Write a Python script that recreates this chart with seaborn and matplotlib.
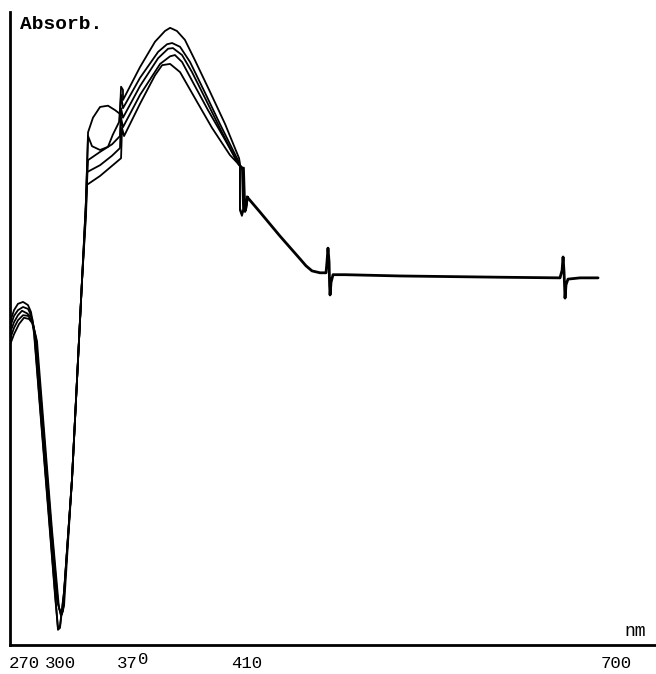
import numpy as np
import pandas as pd
import matplotlib
matplotlib.use("Agg")
import matplotlib.pyplot as plt
import seaborn as sns

# Recorder traces: wavelength (nm) and absorbance (arbitrary units)
trace1_nm = [252.6, 256.5, 260.3, 265.2, 270.0, 272.9, 275.8, 281.6, 289.4, 296.1, 299.0, 300.8,
             304.2, 310.8, 319.2, 322.5, 324.2, 328.3, 334.2, 340.8, 346.7, 350.8, 351.7, 353.3,
             353.3, 367.5, 374.2, 377.7, 379.5, 381.9, 384.7, 388.2, 393.5, 398.8, 403.7, 404.0,
             404.0, 404.7, 406.5]
trace1_A = [0.510, 0.529, 0.539, 0.542, 0.537, 0.526, 0.498, 0.379, 0.221, 0.084, 0.024, 0.027,
            0.084, 0.261, 0.577, 0.703, 0.810, 0.833, 0.850, 0.852, 0.845, 0.839, 0.882, 0.877,
            0.861, 0.913, 0.953, 0.970, 0.975, 0.970, 0.956, 0.924, 0.874, 0.823, 0.769, 0.761,
            0.687, 0.678, 0.708]

trace2_nm = [252.6, 256.5, 260.3, 265.2, 270.0, 272.9, 275.8, 281.6, 289.4, 296.1, 299.0, 300.8,
             304.2, 310.8, 319.2, 322.5, 324.2, 327.5, 334.2, 340.8, 344.8, 350.0, 351.7, 353.3,
             367.5, 375.3, 378.4, 380.2, 383.0, 386.5, 391.8, 397.0, 403.3, 404.0, 404.0, 404.7,
             406.5]
trace2_A = [0.502, 0.520, 0.529, 0.534, 0.531, 0.521, 0.493, 0.374, 0.216, 0.079, 0.027, 0.030,
            0.084, 0.261, 0.577, 0.703, 0.804, 0.788, 0.782, 0.787, 0.806, 0.826, 0.869, 0.848,
            0.896, 0.937, 0.949, 0.951, 0.945, 0.921, 0.872, 0.823, 0.766, 0.758, 0.690, 0.681,
            0.708]

trace3_nm = [252.6, 256.5, 260.3, 264.2, 269.0, 273.9, 276.8, 283.5, 291.3, 298.1, 301.7, 303.3,
             310.8, 319.2, 322.5, 324.2, 334.2, 344.2, 350.8, 351.7, 353.3, 367.5, 375.3, 378.8,
             380.5, 383.7, 387.2, 392.1, 397.7, 403.3, 404.7, 405.1, 405.8, 406.8]
trace3_A = [0.493, 0.510, 0.521, 0.528, 0.524, 0.517, 0.490, 0.355, 0.197, 0.071, 0.046, 0.055,
            0.261, 0.577, 0.695, 0.766, 0.779, 0.791, 0.804, 0.848, 0.833, 0.883, 0.927, 0.942,
            0.943, 0.932, 0.905, 0.861, 0.810, 0.761, 0.755, 0.690, 0.684, 0.708]

trace4_nm = [252.6, 256.5, 260.3, 265.2, 270.0, 273.9, 277.7, 284.5, 292.3, 299.0, 301.7, 303.3,
             310.8, 319.2, 322.5, 323.3, 334.2, 344.2, 350.8, 351.7, 353.3, 367.5, 376.0, 379.5,
             381.2, 383.7, 387.5, 392.8, 398.8, 403.7, 405.1, 405.4, 406.1, 406.8]
trace4_A = [0.483, 0.501, 0.513, 0.521, 0.520, 0.512, 0.485, 0.348, 0.190, 0.066, 0.047, 0.055,
            0.261, 0.577, 0.687, 0.747, 0.758, 0.773, 0.785, 0.833, 0.818, 0.869, 0.918, 0.930,
            0.932, 0.921, 0.889, 0.845, 0.798, 0.758, 0.752, 0.694, 0.686, 0.708]

trace5_nm = [252.6, 256.5, 261.3, 266.1, 271.0, 274.8, 278.7, 285.5, 293.2, 300.0, 302.5, 304.2,
             310.8, 319.2, 322.5, 323.3, 334.2, 344.2, 351.7, 352.5, 354.2, 367.5, 374.2, 376.7,
             379.5, 383.0, 388.2, 394.2, 400.5, 404.7, 405.4, 405.8, 406.1, 406.8]
trace5_A = [0.474, 0.491, 0.507, 0.517, 0.515, 0.507, 0.480, 0.340, 0.182, 0.058, 0.049, 0.062,
            0.261, 0.577, 0.679, 0.727, 0.741, 0.757, 0.769, 0.817, 0.804, 0.855, 0.900, 0.916,
            0.918, 0.905, 0.864, 0.817, 0.774, 0.754, 0.754, 0.697, 0.687, 0.708]

# Common visible-range baseline after the traces merge
tail_nm = [406.5, 412.4, 428.7, 445.0, 449.9, 454.8, 461.3, 466.2, 467.0, 467.8, 468.7, 469.1,
           469.5, 470.3, 471.9, 481.7, 526.5, 608.0, 656.8, 658.5, 659.3, 660.1, 660.9, 661.7,
           663.3, 673.1, 687.8]
tail_A = [0.708, 0.684, 0.646, 0.610, 0.599, 0.591, 0.588, 0.588, 0.605, 0.627, 0.605, 0.569,
          0.553, 0.573, 0.585, 0.585, 0.583, 0.581, 0.580, 0.592, 0.613, 0.589, 0.548, 0.569,
          0.578, 0.580, 0.580]

tick_nm = [270, 300, 370, 410, 700]

# Stretched wavelength axis of the recorder chart (piecewise linear)
scale_nm = [250, 270, 300, 370, 410, 700, 740]
scale_pos = [7.3, 28, 59, 143, 257, 613, 662.1]


def fwd(v):
    return np.interp(v, scale_nm, scale_pos)


def inv(v):
    return np.interp(v, scale_pos, scale_nm)


traces = [(trace1_nm, trace1_A), (trace2_nm, trace2_A), (trace3_nm, trace3_A),
          (trace4_nm, trace4_A), (trace5_nm, trace5_A)]
frames = []
for i, (xs, ys) in enumerate(traces):
    frames.append(pd.DataFrame({"nm": xs, "A": ys, "trace": i + 1}))
df = pd.concat(frames, ignore_index=True)

sns.set_theme(style="white")
plt.rcParams['font.family'] = ['Liberation Mono', 'DejaVu Sans Mono']

fig = plt.figure(figsize=(6.56, 6.74), dpi=100)
ax = fig.add_axes([10 / 656, 29 / 674, 646 / 656, 633 / 674])
ax.set_xscale('function', functions=(fwd, inv))

sns.lineplot(data=df, x="nm", y="A", units="trace", estimator=None, sort=False,
             color="black", linewidth=1.3, ax=ax, legend=False)
sns.lineplot(x=tail_nm, y=tail_A, sort=False, estimator=None, color="black",
             linewidth=2.0, ax=ax)

ax.set_xlim(252.6, 735)
ax.set_ylim(0, 1.0)
ax.set_xlabel("")
ax.set_ylabel("")

for side in ["top", "right"]:
    ax.spines[side].set_visible(False)
for side in ["left", "bottom"]:
    ax.spines[side].set_linewidth(2.0)
    ax.spines[side].set_color("black")

ax.set_xticks(tick_nm)
ax.set_xticklabels([""] * len(tick_nm))
ax.set_yticks([0.981])
ax.set_yticklabels([""])
ax.tick_params(axis="x", direction="in", length=5, width=1.5, color="black")
ax.tick_params(axis="y", direction="in", length=5, width=1.5, color="black")
ax.minorticks_off()

# Typed tick labels, placed slightly off their ticks as on the chart
lab_kw = dict(xycoords=("data", "axes fraction"), textcoords="offset pixels",
              ha="center", va="center", fontsize=12.5, color="black")
label_offsets = {270: -4, 300: 1, 410: -10, 700: 3}
for nm_val, off in label_offsets.items():
    ax.annotate(str(nm_val), xy=(nm_val, 0), xytext=(off, -19), **lab_kw)
ax.annotate("37", xy=(370, 0), xytext=(-16, -19), **lab_kw)
ax.annotate("0", xy=(370, 0), xytext=(0, -15), **lab_kw)

ax.text(0.968, 0.021, "nm", transform=ax.transAxes, ha="center", va="center",
        fontsize=13, color="black")
ax.text(0.016, 0.981, "Absorb.", transform=ax.transAxes, ha="left", va="center",
        fontsize=14, fontweight="bold", color="black")

fig.savefig("out.png", dpi=100, facecolor="white")
